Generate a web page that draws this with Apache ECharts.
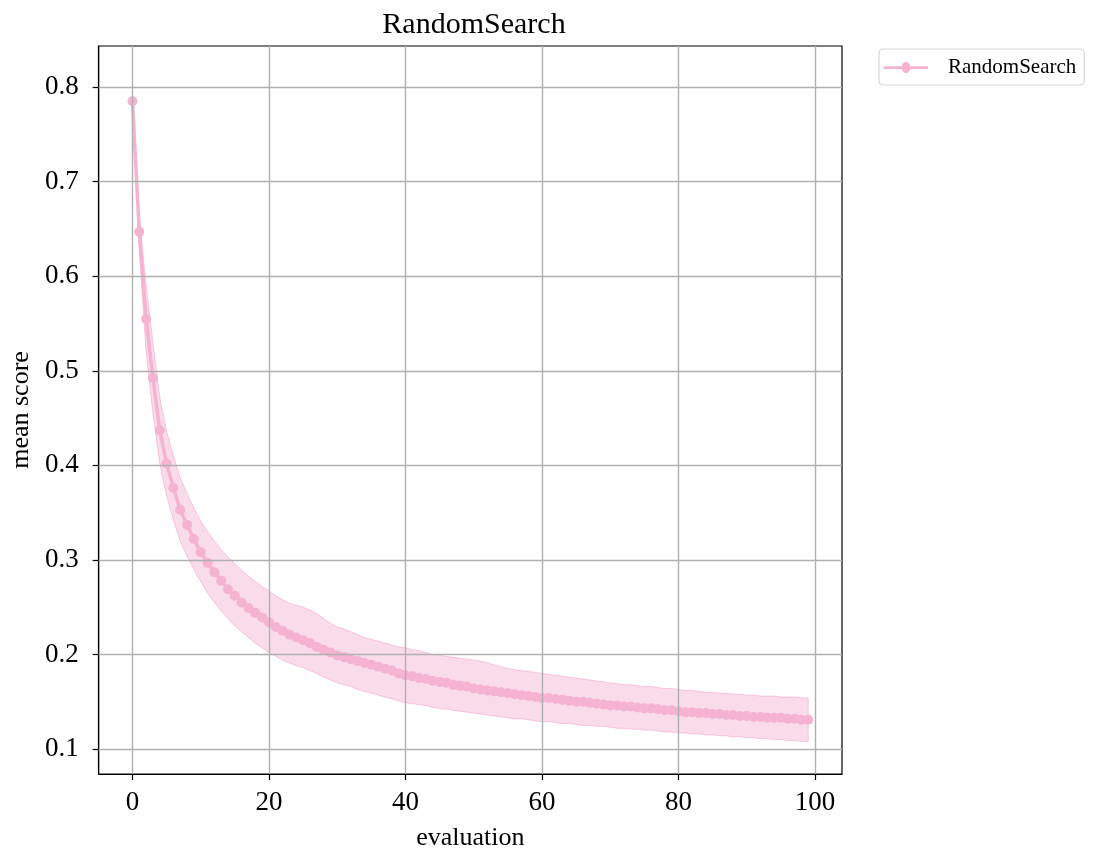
<!DOCTYPE html>
<html>
<head>
<meta charset="utf-8">
<script src="https://cdn.jsdelivr.net/npm/echarts@6/dist/echarts.min.js"></script>
<style>
  html, body { margin: 0; padding: 0; background: #fff; }
  #chart { width: 1095px; height: 867px; }
</style>
</head>
<body>
<div id="chart"></div>
<script>
// Mean score per evaluation, averaged over runs, with its spread band
const evaluations = Array.from({ length: 100 }, (_, i) => i);

const meanScore = [
  0.785, 0.647, 0.555, 0.492, 0.437, 0.402, 0.376, 0.353, 0.337, 0.322,
  0.308, 0.297, 0.287, 0.278, 0.269, 0.262, 0.255, 0.249, 0.244, 0.239,
  0.234, 0.229, 0.225, 0.221, 0.218, 0.215, 0.212, 0.208, 0.205, 0.202,
  0.199, 0.197, 0.195, 0.193, 0.191, 0.189, 0.187, 0.185, 0.183, 0.180,
  0.178, 0.177, 0.175, 0.174, 0.172, 0.171, 0.170, 0.168, 0.167, 0.166,
  0.164, 0.163, 0.162, 0.161, 0.160, 0.159, 0.158, 0.157, 0.156, 0.155,
  0.154, 0.154, 0.153, 0.152, 0.151, 0.150, 0.150, 0.149, 0.148, 0.147,
  0.146, 0.146, 0.145, 0.145, 0.144, 0.143, 0.143, 0.142, 0.141, 0.141,
  0.140, 0.139, 0.139, 0.138, 0.138, 0.137, 0.137, 0.136, 0.136, 0.135,
  0.135, 0.134, 0.134, 0.133, 0.133, 0.133, 0.132, 0.132, 0.131, 0.131
];

const upperScore = [
  0.790, 0.665, 0.590, 0.530, 0.472, 0.436, 0.410, 0.387, 0.370, 0.355,
  0.341, 0.330, 0.320, 0.311, 0.303, 0.296, 0.289, 0.283, 0.277, 0.272,
  0.267, 0.262, 0.258, 0.254, 0.252, 0.250, 0.247, 0.243, 0.238, 0.233,
  0.229, 0.227, 0.224, 0.221, 0.218, 0.216, 0.214, 0.212, 0.210, 0.208,
  0.207, 0.205, 0.204, 0.202, 0.200, 0.199, 0.198, 0.197, 0.196, 0.195,
  0.194, 0.193, 0.191, 0.189, 0.187, 0.185, 0.184, 0.183, 0.182, 0.181,
  0.180, 0.179, 0.178, 0.177, 0.176, 0.175, 0.174, 0.173, 0.172, 0.171,
  0.170, 0.169, 0.168, 0.168, 0.167, 0.166, 0.166, 0.165, 0.164, 0.164,
  0.163, 0.162, 0.162, 0.161, 0.160, 0.160, 0.159, 0.159, 0.158, 0.158,
  0.157, 0.157, 0.156, 0.156, 0.156, 0.155, 0.155, 0.155, 0.154, 0.154
];

const lowerScore = [
  0.780, 0.630, 0.520, 0.455, 0.402, 0.368, 0.342, 0.320, 0.304, 0.290,
  0.277, 0.265, 0.255, 0.246, 0.238, 0.230, 0.224, 0.218, 0.212, 0.207,
  0.202, 0.198, 0.194, 0.191, 0.188, 0.186, 0.183, 0.180, 0.176, 0.173,
  0.170, 0.168, 0.166, 0.163, 0.161, 0.159, 0.157, 0.155, 0.153, 0.151,
  0.149, 0.148, 0.147, 0.146, 0.144, 0.143, 0.142, 0.141, 0.140, 0.139,
  0.138, 0.137, 0.136, 0.135, 0.134, 0.133, 0.132, 0.132, 0.131, 0.130,
  0.129, 0.129, 0.128, 0.127, 0.127, 0.126, 0.125, 0.125, 0.124, 0.124,
  0.123, 0.122, 0.122, 0.121, 0.121, 0.120, 0.120, 0.119, 0.118, 0.118,
  0.117, 0.117, 0.116, 0.116, 0.115, 0.115, 0.114, 0.114, 0.113, 0.113,
  0.112, 0.112, 0.111, 0.111, 0.110, 0.110, 0.109, 0.109, 0.108, 0.108
];

const xTicks = [0, 20, 40, 60, 80, 100];
const yTicks = [0.1, 0.2, 0.3, 0.4, 0.5, 0.6, 0.7, 0.8];

const FONT = '"Liberation Serif", "DejaVu Serif", serif';
const LINE_COLOR = '#f5b3d1';
const BAND_FILL = 'rgba(240, 160, 200, 0.38)';
const BAND_EDGE = 'rgba(240, 160, 200, 0.55)';
const GRID_COLOR = '#b0b0b0';

const pairs = (ys) => evaluations.map((x, i) => [x, ys[i]]);

const gridLines = [
  ...xTicks.map(v => ({ xAxis: v })),
  ...yTicks.map(v => ({ yAxis: v }))
];

// Filled region between the lower and upper curves, projected through the axes
function renderBand(params, api) {
  const top = evaluations.map((x, i) => api.coord([x, upperScore[i]]));
  const bottom = evaluations.map((x, i) => api.coord([x, lowerScore[i]])).reverse();
  return {
    type: 'polygon',
    shape: { points: top.concat(bottom) },
    style: { fill: BAND_FILL, stroke: BAND_EDGE, lineWidth: 1 },
    silent: true
  };
}

const chart = echarts.init(document.getElementById('chart'), null, { renderer: 'canvas' });

chart.setOption({
  animation: false,
  backgroundColor: '#ffffff',
  textStyle: { fontFamily: FONT },
  title: {
    text: 'RandomSearch',
    left: 469,
    textAlign: 'center',
    top: 5,
    textStyle: { fontFamily: FONT, fontSize: 30, fontWeight: 'normal', color: '#000' }
  },
  legend: {
    data: [{
      name: 'RandomSearch',
      icon: 'path://M0,4 L19.5,4 A4.5,4.5 0 1 1 28.5,4 L48,4 L48,7 L28.5,7 A4.5,4.5 0 1 1 19.5,7 L0,7 Z'
    }],
    left: 879,
    top: 49,
    itemWidth: 48,
    itemHeight: 11,
    padding: [8, 8, 7, 5],
    borderColor: '#d5d5d5',
    borderWidth: 1.2,
    borderRadius: 4,
    textStyle: { fontFamily: FONT, fontSize: 21, color: '#000', padding: [0, 0, 0, 13] }
  },
  grid: {
    left: 96,
    right: 253,
    top: 46,
    bottom: 93,
    show: true,
    borderColor: '#000',
    borderWidth: 1.2,
    backgroundColor: 'transparent'
  },
  xAxis: {
    type: 'value',
    min: -4.95,
    max: 103.95,
    name: 'evaluation',
    nameLocation: 'middle',
    nameGap: 51,
    nameTextStyle: { fontFamily: FONT, fontSize: 26, color: '#000' },
    axisLine: { show: true, onZero: false, lineStyle: { color: '#000', width: 1.2 } },
    axisTick: { show: true, inside: false, length: 6, customValues: xTicks, lineStyle: { color: '#000', width: 1.2 } },
    axisLabel: { customValues: xTicks, margin: 15, fontFamily: FONT, fontSize: 27, color: '#000' },
    splitLine: { show: false }
  },
  yAxis: {
    type: 'value',
    min: 0.0736,
    max: 0.8434,
    name: 'mean score',
    nameLocation: 'middle',
    nameGap: 63,
    nameRotate: 90,
    nameTextStyle: { fontFamily: FONT, fontSize: 26, color: '#000' },
    axisLine: { show: true, onZero: false, lineStyle: { color: '#000', width: 1.2 } },
    axisTick: { show: true, inside: false, length: 6, customValues: yTicks, lineStyle: { color: '#000', width: 1.2 } },
    axisLabel: {
      customValues: yTicks,
      margin: 20,
      fontFamily: FONT,
      fontSize: 27,
      color: '#000',
      formatter: v => v.toFixed(1)
    },
    splitLine: { show: false }
  },
  series: [
    {
      // carries the grid lines beneath everything else
      name: 'grid',
      type: 'line',
      data: pairs(meanScore),
      symbol: 'none',
      lineStyle: { opacity: 0 },
      silent: true,
      z: 0,
      markLine: {
        silent: true,
        symbol: 'none',
        label: { show: false },
        lineStyle: { color: GRID_COLOR, width: 1.4, type: 'solid' },
        data: gridLines
      }
    },
    {
      name: 'band',
      type: 'custom',
      renderItem: renderBand,
      data: [0],
      clip: true,
      silent: true,
      z: 1
    },
    {
      name: 'RandomSearch',
      type: 'line',
      data: pairs(meanScore),
      symbol: 'circle',
      symbolSize: 10,
      showAllSymbol: true,
      itemStyle: { color: LINE_COLOR },
      lineStyle: { color: LINE_COLOR, width: 3.5 },
      z: 3
    }
  ]
});
</script>
</body>
</html>
